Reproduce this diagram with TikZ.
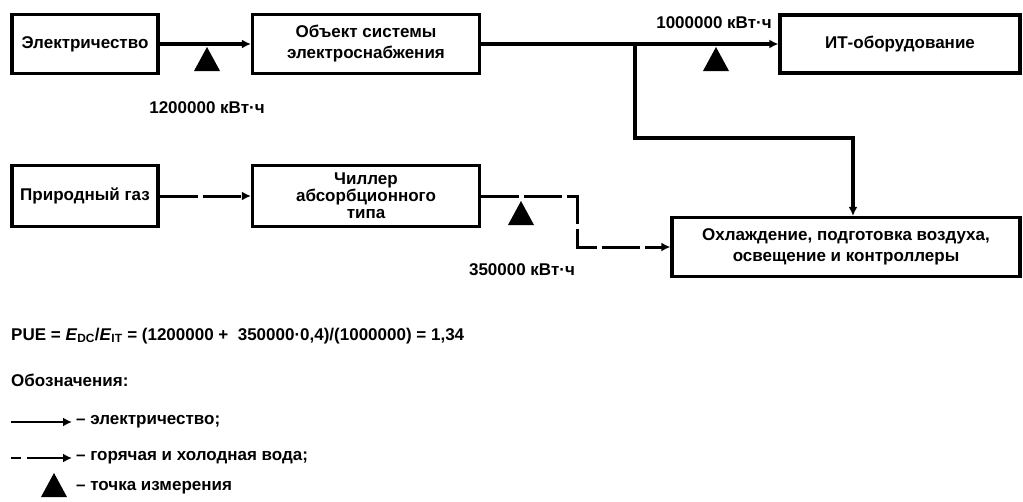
\documentclass[tikz,border=0pt]{standalone}
\usepackage{fontspec}
\setmainfont{Liberation Sans}
\usepackage{tikz}
\usetikzlibrary{
  positioning,
  arrows.meta
}
\tikzset{
  >=Latex,
  block/.style={rectangle,draw,line width=3.2pt,align=center,inner sep=2pt,font=\bfseries\fontsize{17}{21}\selectfont},
  elflow/.style={line width=3.6pt,-{Latex[length=9pt,width=9pt]}},
  waterflow/.style={elflow,line width=3pt,dash pattern=on 38pt off 5pt},
  tag/.style={font=\bfseries\fontsize{17}{21}\selectfont,inner sep=0pt},
  meter/.pic={\fill (-13,0) -- (13,0) -- (0,-24) -- cycle;}
}

\begin{document}
\begin{tikzpicture}[x=1pt,y=-1pt]
    \useasboundingbox (0,0) rectangle (1023,501);
    % Блоки
    \node[block,minimum width=146pt,minimum height=59pt] (elec) at (85,44) {Электричество};
    \node[block,minimum width=227pt,minimum height=59pt] (obj) at (366,44) {Объект системы\\электроснабжения};
    \node[block,minimum width=240pt,minimum height=58pt] (it) at (900,44) {ИТ-оборудование};
    \node[block,minimum width=146pt,minimum height=61pt] (gas) at (85,196) {Природный газ};
    \node[block,minimum width=227pt,minimum height=61pt,font=\bfseries\fontsize{17}{17}\selectfont] (chil) at (366,196) {Чиллер\\абсорбционного\\типа};
    \node[block,minimum width=348pt,minimum height=59pt] (cool) at (846,247) {Охлаждение, подготовка воздуха,\\освещение и контроллеры};

    % Связи
    \coordinate (jn) at (635,44);
    \coordinate (bend) at (853,138);
    \coordinate (drop) at (577,247);
    \draw[elflow] (elec) -- (obj);
    \draw[elflow] (obj) -- (it);
    \draw[elflow] (jn) |- (bend) -- (bend |- cool.north);
    \draw[waterflow] (gas) -- (chil);
    \draw[waterflow] (chil.east) -| (drop) -- (cool.west);

    % Точки измерения
    \pic at (207,71) {meter};
    \pic at (716,71) {meter};
    \pic at (521,225) {meter};
    \node[tag] (lbA) at (207,108) {1200000 кВт·ч};
    \node[tag] (lbB) at (714,23) {1000000 кВт·ч};
    \node[tag] (lbC) at (522,270) {350000 кВт·ч};

    \node[tag,anchor=west] (pue) at (11,336) {PUE = \textit{E}\textsubscript{DC}/\textit{E}\textsubscript{IT} = (1200000 +\ \ 350000·0,4)/(1000000) = 1,34};
    \node[tag,anchor=west] (leg) at (11,380) {Обозначения:};

    % Легенда
    \coordinate (la) at (11,422);
    \coordinate (lb) at (11,458);
    \node[tag,anchor=west,inner sep=4pt] (ta) at (72,422) {– электричество;};
    \node[tag,anchor=west,inner sep=4pt] (tb) at (72,458) {– горячая и холодная вода;};
    \node[tag,anchor=west,inner sep=4pt] (tc) at (72,488) {– точка измерения};
    \draw[elflow,line width=2.6pt] (la) -- (ta.west);
    \draw[waterflow,line width=2.6pt,dash pattern=on 10pt off 6pt on 100pt off 1pt] (lb) -- (tb.west);
    \pic at (54,497) {meter};
\end{tikzpicture}
\end{document}
